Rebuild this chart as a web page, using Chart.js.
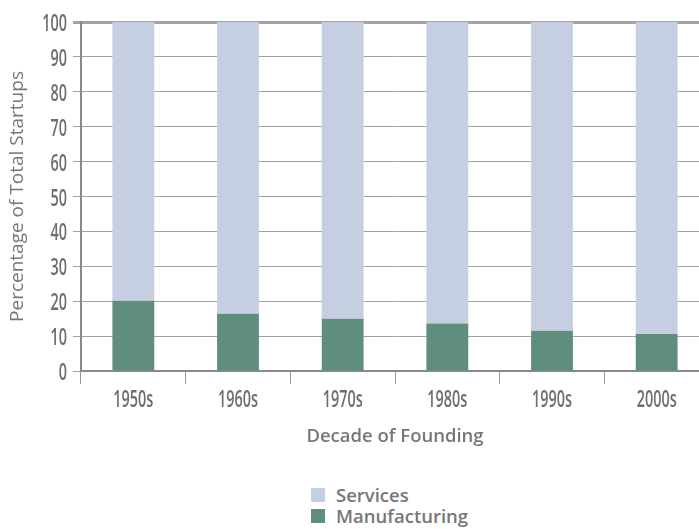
<!DOCTYPE html>
<html>
<head>
<meta charset="utf-8">
<script src="https://cdn.jsdelivr.net/npm/chart.js@4"></script>
<style>
  body { margin: 0; overflow: hidden; background: #fff; }
  #wrap { position: relative; width: 709px; height: 529px; }
  #legend { position: absolute; left: 311px; top: 484px; font-family: "Open Sans", sans-serif; font-weight: 600; font-size: 18.5px; color: #777; }
  #legend div { height: 21px; line-height: 18px; display: flex; align-items: center; }
  #legend span.box { display: inline-block; width: 14px; height: 14px; margin-right: 11px; }
</style>
</head>
<body>
<div id="wrap">
  <canvas id="chart" width="709" height="460"></canvas>
  <div id="legend"></div>
</div>
<script>
const decades = ["1950s", "1960s", "1970s", "1980s", "1990s", "2000s"];
const manufacturing = [20.1, 16.4, 15.0, 13.6, 11.5, 10.6];
const services = [79.9, 83.6, 85.0, 86.4, 88.5, 89.4];
const yTicks = [0, 10, 20, 30, 40, 50, 60, 70, 80, 90, 100];

// the tick labels in the original use a tall condensed face, so squeeze them horizontally
const narrowTicks = {
  id: "narrowTicks",
  afterDraw(chart) {
    const ctx = chart.ctx;
    const xs = chart.scales.x;
    const ys = chart.scales.y;
    ctx.save();
    ctx.font = '600 24px "Open Sans", sans-serif';
    ctx.fillStyle = "#6e6e6e";
    ctx.textBaseline = "alphabetic";

    ctx.textAlign = "center";
    xs.ticks.forEach((t, i) => {
      ctx.save();
      ctx.translate(xs.getPixelForTick(i), xs.top + 36);
      ctx.scale(0.6, 1);
      ctx.fillText(xs.getLabelForValue(t.value), 0, 0);
      ctx.restore();
    });

    ctx.textAlign = "right";
    ys.ticks.forEach((t, i) => {
      ctx.save();
      ctx.translate(ys.right - 14, ys.getPixelForTick(i) + 9);
      ctx.scale(0.6, 1);
      ctx.fillText(String(t.value), 0, 0);
      ctx.restore();
    });
    ctx.restore();
  },
};

const chart = new Chart(document.getElementById("chart"), {
  type: "bar",
  data: {
    labels: decades,
    datasets: [
      { label: "Manufacturing", data: manufacturing, backgroundColor: "#5f8e7e" },
      { label: "Services", data: services, backgroundColor: "#c6cfe2" },
    ],
  },
  plugins: [narrowTicks],
  options: {
    responsive: false,
    animation: false,
    devicePixelRatio: 1,
    layout: { padding: { top: 22, left: 0, right: 0, bottom: 0 } },
    datasets: { bar: { categoryPercentage: 1, barPercentage: 0.4 } },
    plugins: { legend: { display: false }, tooltip: { enabled: false } },
    scales: {
      x: {
        stacked: true,
        grid: { drawOnChartArea: false, tickLength: 13, color: "#9a9a9a" },
        border: { color: "#8a8a8a", width: 2 },
        ticks: { display: false },
        title: {
          display: true,
          text: "Decade of Founding",
          color: "#777",
          font: { family: '"Open Sans", sans-serif', size: 18.5, weight: "600" },
          padding: { top: 0, bottom: 12 },
        },
        afterFit: (scale) => { scale.height = 89; },
      },
      y: {
        stacked: true,
        min: 0,
        max: 100,
        afterBuildTicks: (scale) => { scale.ticks = yTicks.map((v) => ({ value: v })); },
        grid: {
          tickLength: 8,
          color: "#a3a3a3",
          lineWidth: (ctx) => (ctx.tick && ctx.tick.value === 100 ? 3 : 1),
        },
        border: { color: "#8a8a8a", width: 2 },
        ticks: { display: false },
        title: {
          display: true,
          text: "Percentage of Total Startups",
          color: "#777",
          font: { family: '"Open Sans", sans-serif', size: 19 },
          padding: { top: 6, bottom: 0 },
        },
        afterFit: (scale) => { scale.width = 81; },
      },
    },
  },
});

// legend, services listed first
const legend = document.getElementById("legend");
chart.data.datasets.slice().reverse().forEach((ds) => {
  const row = document.createElement("div");
  const box = document.createElement("span");
  box.className = "box";
  box.style.background = ds.backgroundColor;
  row.appendChild(box);
  row.appendChild(document.createTextNode(ds.label));
  legend.appendChild(row);
});
</script>
</body>
</html>
